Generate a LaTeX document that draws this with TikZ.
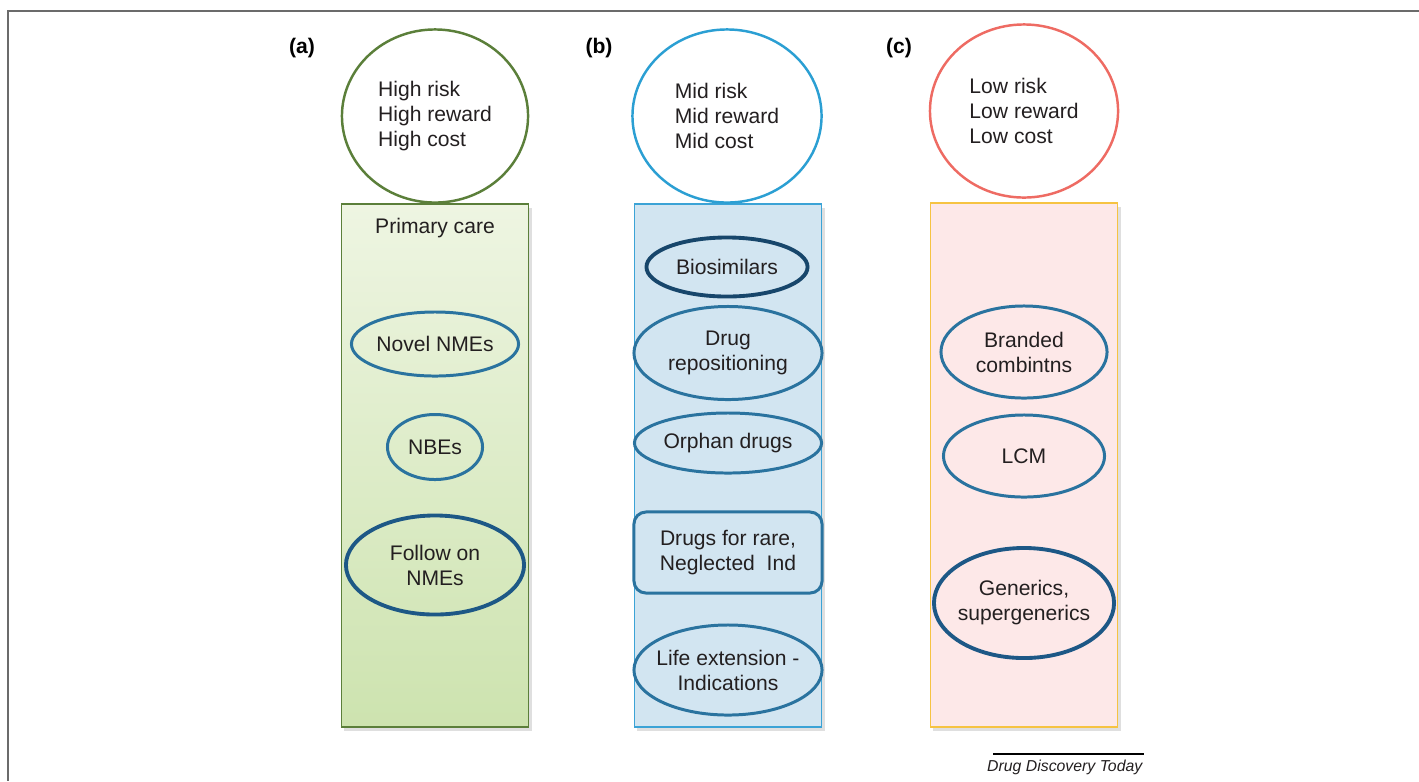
\documentclass[tikz,border=0pt]{standalone}
\usepackage{fontspec}
\setmainfont{Liberation Sans}
\usetikzlibrary{shapes.geometric,shadows}
\definecolor{olivegrn}{RGB}{91,127,58}
\definecolor{grntop}{RGB}{238,245,226}
\definecolor{grnbot}{RGB}{205,227,175}
\definecolor{skyblu}{RGB}{43,159,211}
\definecolor{blufill}{RGB}{210,229,241}
\definecolor{bluedge}{RGB}{59,163,214}
\definecolor{coral}{RGB}{238,107,99}
\definecolor{pinkfill}{RGB}{253,232,232}
\definecolor{gold}{RGB}{246,195,66}
\definecolor{ellblu}{RGB}{42,115,159}
\definecolor{ellnavy}{RGB}{29,88,134}
\definecolor{framegray}{RGB}{107,107,107}
\definecolor{txtgray}{RGB}{35,31,32}
\begin{document}
\begin{tikzpicture}[x=0.01cm,y=-0.01cm,
  every node/.style={text=txtgray,font=\fontsize{6}{7.1}\selectfont},
  riskcirc/.style={ellipse,draw,line width=0.7pt,fill=white,inner sep=0pt,
    minimum width=1.88cm,minimum height=1.73cm,align=left},
  panelbox/.style={rectangle,draw,line width=0.45pt,inner sep=0pt,minimum width=1.87cm,
    drop shadow={shadow xshift=0.03cm,shadow yshift=-0.04cm,opacity=0.25}},
  itemell/.style={ellipse,draw=ellblu,line width=0.85pt,inner xsep=-0.3cm,inner ysep=-0.15cm,align=center},
  thickell/.style={itemell,draw=ellnavy,line width=1.1pt},
  tag/.style={font=\fontsize{6}{7}\selectfont\bfseries,text=black}]
\useasboundingbox (0,0) rectangle (1419,781);
\draw[framegray,line width=0.5pt] (1419,11) -- (8,11) -- (8,781);

% (a)
\node[panelbox,draw=olivegrn,top color=grntop,bottom color=grnbot,minimum height=5.23cm] (panelA) at (435,465.5) {};
\node[riskcirc,draw=olivegrn,minimum width=1.86cm] (riskA) at (435,116) {High risk\\High reward\\High cost};
\node[tag] (tagA) at (302,48) {(a)};
\node (primary) at (435,228) {Primary care};
\node[itemell,minimum width=1.67cm,minimum height=0.64cm] (novel) at (435,344) {Novel NMEs};
\node[itemell,minimum width=0.95cm,minimum height=0.65cm] (nbe) at (435,447) {NBEs};
\node[thickell,minimum width=1.78cm,minimum height=0.99cm] (followon) at (435,565) {Follow on\\NMEs};

% (b)
\node[panelbox,draw=bluedge,fill=blufill,minimum height=5.23cm] (panelB) at (728,465.5) {};
\node[riskcirc,draw=skyblu,minimum width=1.89cm] (riskB) at (727,116) {Mid risk\\Mid reward\\Mid cost};
\node[tag] (tagB) at (599,48) {(b)};
\node[thickell,draw=ellnavy!80!black,minimum width=1.61cm,minimum height=0.59cm] (biosim) at (727,267) {Biosimilars};
\node[itemell,minimum width=1.88cm,minimum height=0.93cm] (repos) at (728,353) {Drug\\repositioning};
\node[itemell,minimum width=1.87cm,minimum height=0.60cm] (orphan) at (728,443) {Orphan drugs};
\node[rectangle,rounded corners=0.12cm,draw=ellblu,line width=0.85pt,inner sep=0pt,align=center,
  minimum width=1.88cm,minimum height=0.81cm] (rare) at (728,552.5) {Drugs for rare,\\Neglected~~Ind};
\node[itemell,minimum width=1.88cm,minimum height=0.90cm] (lifeext) at (728,670) {Life extension -\\Indications};

% (c)
\node[panelbox,draw=gold,fill=pinkfill,minimum height=5.24cm] (panelC) at (1024,465) {};
\node[riskcirc,draw=coral,minimum width=1.88cm] (riskC) at (1024,111) {Low risk\\Low reward\\Low cost};
\node[tag] (tagC) at (899,48) {(c)};
\node[itemell,minimum width=1.66cm,minimum height=0.92cm] (branded) at (1024,352) {Branded\\combintns};
\node[itemell,minimum width=1.61cm,minimum height=0.82cm] (lcm) at (1024,456) {LCM};
\node[thickell,minimum width=1.80cm,minimum height=1.10cm] (generics) at (1024,603) {Generics,\\supergenerics};

% journal
\node[font=\fontsize{4.5}{5}\selectfont\itshape,anchor=east,inner sep=0pt] (journal) at (1143,767) {Drug Discovery Today};
\draw[black,line width=0.3pt] (993,754) -- (1144,754);
\end{tikzpicture}
\end{document}
